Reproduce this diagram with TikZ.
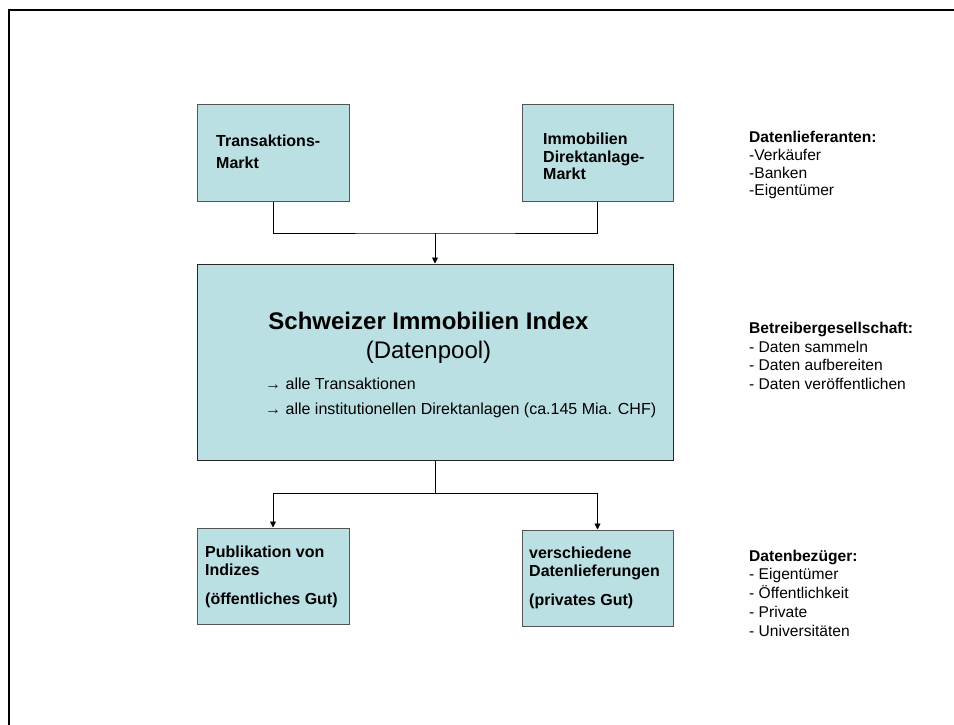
\documentclass[tikz,border=0pt]{standalone}
\usepackage{fontspec}
\setmainfont{Liberation Sans}
\usetikzlibrary{arrows.meta}
\definecolor{boxfill}{RGB}{187,224,227}
\definecolor{boxline}{RGB}{85,85,85}
\newcommand{\fsz}[2]{\fontsize{#1}{#2}\selectfont}
\newcommand{\lns}[1]{\begin{tabular}[t]{@{}l@{}}#1\end{tabular}}
\begin{document}
\begin{tikzpicture}[x=1pt,y=-1pt,
  box/.style={draw=boxline,fill=boxfill,line width=1pt,inner sep=0pt,
              minimum width=152pt,minimum height=96pt},
  bigbox/.style={draw=black!85,fill=boxfill,line width=1pt,inner sep=0pt,
              minimum width=476pt,minimum height=196pt},
  lbl/.style={anchor=base west,inner sep=0pt},
  ctr/.style={anchor=base,inner sep=0pt},
  conn/.style={draw=black,line width=0.9pt},
  arr/.style={conn,-{Triangle[length=6pt,width=6pt]}}]
\useasboundingbox (0,0) rectangle (954,725);
% frame
\draw[line width=2pt] (9,725) -- (9,10) -- (954,10);
% boxes
\node[box] (b1) at (273,153) {};
\node[box,minimum width=151pt] (b2) at (597.5,153) {};
\node[bigbox] (big) at (435,362) {};
\node[box] (b3) at (273,576) {};
\node[box,minimum width=151pt] (b4) at (597.5,578) {};
% connectors
\coordinate (j1) at (435,233);
\coordinate (j2) at (435,493);
\draw[conn] (b1.south) |- (j1) -| (b2.south);
\draw[arr] (j1) -- (big.north);
\draw[conn] (big.south) -- (j2);
\draw[arr] (j2) -| (b3.north);
\draw[arr] (j2) -| (b4.north);
% box texts
\node[lbl] (t1) at (216,146.5) {\fsz{16}{21.6}\bfseries\lns{Transaktions-\\Markt}};
\node[lbl] (t2) at (543,144.5) {\fsz{16}{17.5}\bfseries\lns{Immobilien\\Direktanlage-\\Markt}};
\node[lbl] (t3) at (205,557.3) {\fsz{16}{18.4}\bfseries\lns{Publikation von\\Indizes\\[10.2pt](öffentliches Gut)}};
\node[lbl] (t4) at (529,558.3) {\fsz{16}{18.4}\bfseries\lns{verschiedene\\Datenlieferungen\\[10.2pt](privates Gut)}};
% big box text
\node[ctr] (title) at (428.5,329.3) {\fsz{24}{28}\bfseries Schweizer Immobilien Index};
\node[ctr] (pool) at (428.5,358.7) {\fsz{24}{28}(Datenpool)};
\node[lbl] (a1) at (265,389) {\fsz{16}{18}→ alle Transaktionen};
\node[lbl] (a2) at (265,414) {\fsz{16}{18}→ alle institutionellen Direktanlagen (ca.145 Mia. CHF)};
% right column
\node[lbl] (r1) at (749,142.7) {\fsz{15.6}{17.7}\lns{\textbf{Datenlieferanten:}\\-Verkäufer\\-Banken\\-Eigentümer}};
\node[lbl] (r2) at (749,333.3) {\fsz{15.6}{18.7}\lns{\textbf{Betreibergesellschaft:}\\- Daten sammeln\\- Daten aufbereiten\\- Daten veröffentlichen}};
\node[lbl] (r3) at (749,561) {\fsz{15.6}{18.9}\lns{\textbf{Datenbezüger:}\\- Eigentümer\\- Öffentlichkeit\\- Private\\- Universitäten}};
\end{tikzpicture}
\end{document}
